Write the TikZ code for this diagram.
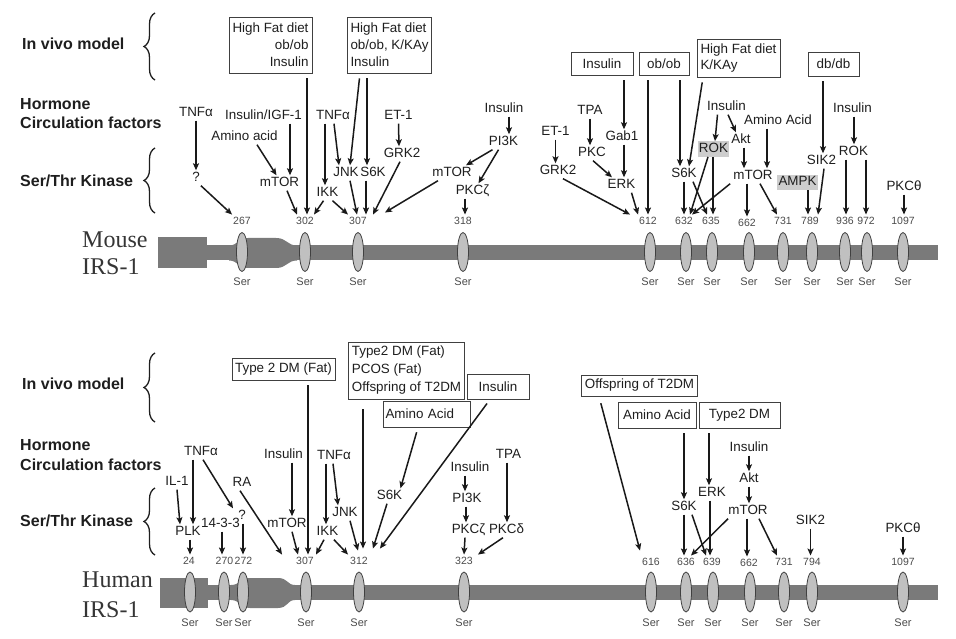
\documentclass[tikz,border=0pt]{standalone}
\usepackage{fontspec}
\setmainfont{Liberation Sans}
\newfontfamily\serifirs{Liberation Serif}
\usetikzlibrary{arrows.meta,decorations.pathreplacing}
\definecolor{barc}{RGB}{122,122,122}
\definecolor{ellc}{RGB}{192,192,192}
\definecolor{txt}{RGB}{30,30,30}
\definecolor{numc}{RGB}{75,75,75}
\definecolor{hlc}{RGB}{205,205,205}
\begin{document}
\begin{tikzpicture}[x=1pt,y=-1pt,
  lbl/.style={font=\fontsize{13.4}{16}\selectfont, text=txt, inner sep=1pt, text height=10pt, text depth=3pt},
  hl/.style={lbl, fill=hlc, inner sep=1.2pt},
  num/.style={font=\fontsize{10.5}{12}\selectfont, text=numc, inner xsep=1pt, inner ysep=2.5pt, text height=7.5pt, text depth=0pt},
  ser/.style={font=\fontsize{11}{13}\selectfont, text=numc, inner sep=1pt},
  bx/.style={draw=txt!85, line width=0.9pt, font=\fontsize{13.4}{17}\selectfont, text=txt, inner xsep=3pt, inner ysep=2pt},
  side/.style={font=\bfseries\fontsize{16}{19}\selectfont, anchor=west, inner sep=0pt, text=txt, text height=11.5pt, text depth=0pt},
  irs/.style={font=\serifirs\fontsize{24}{26}\selectfont, anchor=west, inner sep=0pt, text=txt!90, text height=16pt, text depth=0pt},
  arr/.style={-{Stealth[length=7pt,width=6pt,inset=1.5pt]}, line width=1.5pt, draw=black!90},
  fromb/.style={arr, shorten <=5pt},
  ell/.style={fill=ellc, draw=black!75, line width=0.8pt},
  brc/.style={decorate, decoration={brace, amplitude=11pt}, line width=1.3pt, draw=txt}
]
\useasboundingbox (0,0) rectangle (956,639);

% ================= side labels =================
\node[side] (lv1) at (22,44) {In vivo model};
\node[side] (lh1) at (20,103.5) {Hormone};
\node[side] (lc1) at (20,123) {Circulation factors};
\node[side] (lk1) at (20,180.5) {Ser/Thr Kinase};
\node[side] (lv2) at (22,383.5) {In vivo model};
\node[side] (lh2) at (20,445) {Hormone};
\node[side] (lc2) at (20,464.5) {Circulation factors};
\node[side] (lk2) at (20,520.5) {Ser/Thr Kinase};
\draw[brc] (155,80) -- (155,13);
\draw[brc] (155,213) -- (155,148);
\draw[brc] (155,422) -- (155,353);
\draw[brc] (155,555) -- (155,488);
\node[irs] (mo1) at (82,239.5) {Mouse};
\node[irs] (mo2) at (82,266.5) {IRS-1};
\node[irs] (hu1) at (82,579.5) {Human};
\node[irs] (hu2) at (82,609.5) {IRS-1};

% ================= mouse bar =================
\fill[barc] (158,237) rectangle (207,268);
\fill[barc] (206,245.5) rectangle (938,260.5);
\fill[barc] (229,245.5) .. controls (238,245.5) and (238,238) .. (248,238) -- (276,238)
  .. controls (287,238) and (287,245.5) .. (297,245.5) -- (297,260.5)
  .. controls (287,260.5) and (287,268) .. (276,268) -- (248,268)
  .. controls (238,268) and (238,260.5) .. (229,260.5) -- cycle;
\foreach \x in {242,305,358,463,650,686,712,749,783,812,845,867,903}
  \draw[ell] (\x,252) ellipse [x radius=5.5pt, y radius=19.5pt];
\foreach \x [count=\i] in {242,305,358,463,650,686,712,749,783,812,845,867,903}
  \node[ser] (ms\i) at (\x,282) {Ser};

% ================= human bar =================
\fill[barc] (160,578) rectangle (208,608);
\fill[barc] (207,585) rectangle (938,600);
\fill[barc] (231,585) .. controls (240,585) and (240,578) .. (250,578) -- (278,578)
  .. controls (288,578) and (287,585) .. (295,585) -- (295,600)
  .. controls (287,600) and (288,608) .. (278,608) -- (250,608)
  .. controls (240,608) and (240,600) .. (231,600) -- cycle;
\foreach \x in {190,224,243,306,359,464,651,686,713,750,784,812,903}
  \draw[ell] (\x,592) ellipse [x radius=5.5pt, y radius=20pt];
\foreach \x [count=\i] in {190,224,243,306,359,464,651,686,713,750,784,812,903}
  \node[ser] (hs\i) at (\x,623) {Ser};

% ================= mouse numbers =================
\node[num] (n267) at (242,221) {267};
\node[num] (n302) at (305,221) {302};
\node[num] (n307) at (358,221) {307};
\node[num] (n318) at (463,221) {318};
\node[num] (n612) at (648,221) {612};
\node[num] (n632) at (684,221) {632};
\node[num] (n635) at (711,221) {635};
\node[num] (n662) at (747,223) {662};
\node[num] (n731) at (783,221) {731};
\node[num] (n789) at (810,221) {789};
\node[num] (n936) at (845,221) {936};
\node[num] (n972) at (866,221) {972};
\node[num] (n1097) at (903,221) {1097};

% ================= mouse boxes =================
\node[bx, align=right, minimum width=83pt, minimum height=56pt] (mb1) at (270.5,45) {High Fat diet\\ob/ob\\Insulin};
\node[bx, align=left, minimum width=83pt, minimum height=56pt] (mb2) at (389.5,45) {High Fat diet\\ob/ob, K/KAy\\Insulin};
\node[bx, minimum width=62pt, minimum height=23pt] (mbins) at (602,63.5) {Insulin};
\node[bx, minimum width=50pt, minimum height=23pt] (mbob) at (664,63.5) {ob/ob};
\node[bx, align=left, minimum width=83pt, minimum height=38pt, font=\fontsize{13.4}{16}\selectfont] (mbhf) at (738.5,58) {High Fat diet\\K/KAy};
\node[bx, minimum width=51pt, minimum height=24pt] (mbdb) at (833.5,64) {db/db};

% ================= mouse labels =================
\node[lbl] (mtnf1) at (196,113) {TNFα};
\node[lbl] (mq) at (196,178) {?};
\node[lbl] (migf) at (263.5,116) {Insulin/IGF-1};
\node[lbl] (maa) at (244.5,137) {Amino acid};
\node[lbl] (mmtor1) at (279.5,183) {mTOR};
\node[lbl] (mtnf2) at (333,116) {TNFα};
\node[lbl] (mjnk) at (346,173) {JNK};
\node[lbl] (ms6k1) at (373,173) {S6K};
\node[lbl] (mikk) at (327.5,193) {IKK};
\node[lbl] (met1) at (398.5,116) {ET-1};
\node[lbl] (mgrk1) at (402,154) {GRK2};
\node[lbl] (mmtor2) at (452,173) {mTOR};
\node[lbl] (mpkcz) at (472.5,191) {PKCζ};
\node[lbl] (mins1) at (504,109) {Insulin};
\node[lbl] (mpi3k) at (503.5,142) {PI3K};
\node[lbl] (mtpa) at (590,111) {TPA};
\node[lbl] (mpkc) at (592,153) {PKC};
\node[lbl] (met2) at (555.5,132) {ET-1};
\node[lbl] (mgrk2) at (558,171) {GRK2};
\node[lbl] (mgab) at (622,137) {Gab1};
\node[lbl] (merk) at (621.5,185) {ERK};
\node[lbl] (ms6k2) at (684,174) {S6K};
\node[hl] (mrok1) at (713.5,149) {ROK};
\node[lbl] (mins2) at (726.5,107) {Insulin};
\node[lbl] (makt) at (741,140) {Akt};
\node[lbl] (maa2) at (778,121) {Amino Acid};
\node[lbl] (mmtor3) at (753,176) {mTOR};
\node[hl] (mampk) at (797.5,182.5) {AMPK};
\node[lbl] (msik) at (821.5,161) {SIK2};
\node[lbl] (mins3) at (852.5,109) {Insulin};
\node[lbl] (mrok2) at (853.5,152) {ROK};
\node[lbl] (mpkct) at (904,187) {PKCθ};

% ================= mouse arrows =================
\draw[arr] (mtnf1) -- (mq);
\draw[arr] (mq.south east) -- (n267.north west);
\draw[arr] ([xshift=26.5pt]migf.south) -- ([xshift=10.5pt]mmtor1.north);
\draw[arr] ([xshift=12.5pt]maa.south) -- ([xshift=-3pt]mmtor1.north);
\draw[arr] ([xshift=7.5pt]mmtor1.south) -- ([xshift=-8pt]n302.north);
\draw[fromb] ([xshift=36.5pt]mb1.south) -- ([xshift=2pt]n302.north);
\draw[arr] ([xshift=-8pt]mtnf2.south) -- ([xshift=-2.5pt]mikk.north);
\draw[arr] ([xshift=1pt]mtnf2.south) -- ([xshift=-7pt]mjnk.north);
\draw[fromb] ([xshift=-29.5pt]mb2.south) -- ([xshift=4pt]mjnk.north);
\draw[fromb] ([xshift=-22.5pt]mb2.south) -- ([xshift=-6pt]ms6k1.north);
\draw[arr] ([xshift=-4pt]mikk.south) -- ([xshift=9pt]n302.north);
\draw[arr] ([xshift=5pt]mikk.south) -- ([xshift=-10pt]n307.north);
\draw[arr] ([xshift=4pt]mjnk.south) -- ([xshift=-1pt]n307.north);
\draw[arr] ([xshift=-7pt]ms6k1.south) -- ([xshift=8pt]n307.north);
\draw[arr] (met1.south) -- ([xshift=-3pt]mgrk1.north);
\draw[arr] ([xshift=-2pt]mgrk1.south) -- ([xshift=15pt]n307.north);
\draw[arr] ([xshift=-14pt]mmtor2.south) -- ([xshift=17pt,yshift=2pt]n307.north east);
\draw[arr] ([xshift=-7.5pt]mpkcz.south) -- ([xshift=2pt]n318.north);
\draw[arr] ([xshift=5pt]mins1.south) -- ([xshift=5.5pt]mpi3k.north);
\draw[arr] ([xshift=-11pt]mpi3k.south) -- ([xshift=14pt]mmtor2.north);
\draw[arr] ([xshift=-5pt]mpi3k.south) -- ([xshift=6pt]mpkcz.north);
\draw[arr] (mtpa.south) -- ([xshift=-2pt]mpkc.north);
\draw[arr] (met2.south) -- ([xshift=-2.5pt]mgrk2.north);
\draw[fromb] ([xshift=22pt]mbins.south) -- ([xshift=2pt]mgab.north);
\draw[arr] ([xshift=2pt]mgab.south) -- ([xshift=2.5pt]merk.north);
\draw[arr] ([xshift=1pt]mpkc.south) -- ([xshift=-9.5pt]merk.north);
\draw[arr] ([xshift=10pt]merk.south) -- (n612.north west);
\draw[arr] ([xshift=5pt]mgrk2.south) -- ([xshift=-8pt]n612.north west);
\draw[fromb] ([xshift=-16pt]mbob.south) -- (n612.north);
\draw[fromb] ([xshift=16pt]mbob.south) -- ([xshift=-4pt]ms6k2.north);
\draw[fromb] ([xshift=-35.5pt]mbhf.south) -- ([xshift=5pt]ms6k2.north);
\draw[arr] (ms6k2.south) -- (n632.north);
\draw[arr] ([xshift=9pt]ms6k2.south) -- ([xshift=-4pt]n635.north);
\draw[arr] ([xshift=-5.5pt]mrok1.south) -- ([xshift=6pt]n632.north);
\draw[arr] ([xshift=-0.5pt]mrok1.south) -- ([xshift=2pt]n635.north);
\draw[arr] ([xshift=-9pt]mins2.south) -- ([xshift=1.5pt]mrok1.north);
\draw[arr] ([xshift=1.5pt]mins2.south) -- ([xshift=-5pt]makt.north);
\draw[arr] ([xshift=3pt]makt.south) -- ([xshift=-9pt]mmtor3.north);
\draw[arr] ([xshift=-11pt]maa2.south) -- ([xshift=14pt]mmtor3.north);
\draw[arr] ([xshift=-2pt]mmtor3.south west) -- ([xshift=8pt]n632.north);
\draw[arr] ([xshift=-6pt]mmtor3.south) -- (n662.north);
\draw[arr] ([xshift=7pt]mmtor3.south) -- ([xshift=-6pt]n731.north);
\draw[arr] ([xshift=10.5pt]mampk.south) -- ([xshift=-2pt]n789.north);
\draw[fromb] ([xshift=-10.5pt]mbdb.south) -- ([xshift=1.5pt]msik.north);
\draw[arr] ([xshift=2.5pt]msik.south) -- ([xshift=8pt]n789.north);
\draw[arr] ([xshift=1.5pt]mins3.south) -- ([xshift=0.5pt]mrok2.north);
\draw[arr] ([xshift=-7.5pt]mrok2.south) -- ([xshift=1pt]n936.north);
\draw[arr] ([xshift=12.5pt]mrok2.south) -- (n972.north);
\draw[arr] (mpkct.south) -- ([xshift=1pt]n1097.north);

% ================= human numbers =================
\node[num] (h24) at (189,561) {24};
\node[num] (h270) at (224.5,561) {270};
\node[num] (h272) at (243.5,561) {272};
\node[num] (h307) at (305,561) {307};
\node[num] (h312) at (359,561) {312};
\node[num] (h323) at (464,561) {323};
\node[num] (h616) at (651,562) {616};
\node[num] (h636) at (686,562) {636};
\node[num] (h639) at (712,562) {639};
\node[num] (h662) at (749,563) {662};
\node[num] (h731) at (784,562) {731};
\node[num] (h794) at (812,562) {794};
\node[num] (h1097) at (903,562) {1097};

% ================= human boxes =================
\node[bx, minimum width=103pt, minimum height=22pt] (hb1) at (283.5,369) {Type 2 DM (Fat)};
\node[bx, align=left, minimum width=115pt, minimum height=57pt, font=\fontsize{13.4}{18}\selectfont] (hb2) at (406.5,370.5) {Type2 DM (Fat)\\PCOS (Fat)\\Offspring of T2DM};
\node[bx, minimum width=62pt, minimum height=25pt] (hbins) at (498,386.5) {Insulin};
\node[bx, text width=82pt, inner xsep=2.5pt, align=left, minimum height=26pt] (hbaa) at (426.5,414) {Amino Acid};
\node[bx, minimum width=115pt, minimum height=21pt] (hbof) at (639.5,385.5) {Offspring of T2DM};
\node[bx, minimum width=78pt, minimum height=26pt] (hbaa2) at (657,415) {Amino Acid};
\node[bx, minimum width=81pt, minimum height=26pt] (hbt2) at (739.5,415) {Type2 DM};

% ================= human labels =================
\node[lbl] (htnf1) at (201,452) {TNFα};
\node[lbl] (hil) at (177,482) {IL-1};
\node[lbl] (hplk) at (188,532) {PLK};
\node[lbl] (h1433) at (220.5,524) {14-3-3};
\node[lbl] (hq) at (242,516) {?};
\node[lbl] (hra) at (242,483) {RA};
\node[lbl] (hins1) at (283.5,455) {Insulin};
\node[lbl] (hmtor1) at (287,524) {mTOR};
\node[lbl] (htnf2) at (334,456) {TNFα};
\node[lbl] (hjnk) at (345,513) {JNK};
\node[lbl] (hikk) at (327.5,532) {IKK};
\node[lbl] (hs6k1) at (389.5,496) {S6K};
\node[lbl] (hins2) at (470,468) {Insulin};
\node[lbl] (hpi3k) at (467,499) {PI3K};
\node[lbl] (hpkcz) at (468.5,530) {PKCζ};
\node[lbl] (htpa) at (508.5,455) {TPA};
\node[lbl] (hpkcd) at (506.5,530) {PKCδ};
\node[lbl] (hs6k2) at (684,507) {S6K};
\node[lbl] (herk) at (712,493) {ERK};
\node[lbl] (hins3) at (749,448) {Insulin};
\node[lbl] (hakt) at (749,479) {Akt};
\node[lbl] (hmtor2) at (748,511) {mTOR};
\node[lbl] (hsik) at (810.5,521) {SIK2};
\node[lbl] (hpkct) at (903,529) {PKCθ};

% ================= human arrows =================
\draw[arr] ([xshift=-8pt]htnf1.south) -- ([xshift=5pt]hplk.north);
\draw[arr] (hil.south) -- ([xshift=-8pt]hplk.north);
\draw[arr] ([xshift=2pt]htnf1.south) -- ([xshift=-9pt]hq.north);
\draw[arr] ([xshift=2pt]hplk.south) -- ([xshift=1pt]h24.north);
\draw[arr] ([xshift=1.5pt]h1433.south) -- ([xshift=-2.5pt]h270.north);
\draw[arr] ([xshift=1pt]hq.south) -- ([xshift=-0.5pt]h272.north);
\draw[arr] ([xshift=-2pt]hra.south) -- ([xshift=-13pt]h307.north west);
\draw[arr] ([xshift=8.5pt]hins1.south) -- ([xshift=5pt]hmtor1.north);
\draw[arr] ([xshift=5pt]hmtor1.south) -- ([xshift=-7pt]h307.north);
\draw[fromb] ([xshift=24.5pt]hb1.south) -- ([xshift=3pt]h307.north);
\draw[arr] ([xshift=-8pt]htnf2.south) -- ([xshift=-1.5pt]hikk.north);
\draw[arr] ([xshift=-1pt]htnf2.south) -- ([xshift=-7pt]hjnk.north);
\draw[arr] ([xshift=-3.5pt]hikk.south) -- ([xshift=11pt]h307.north);
\draw[arr] ([xshift=6.5pt]hikk.south) -- ([xshift=-1pt]h312.north west);
\draw[arr] ([xshift=5pt]hjnk.south) -- ([xshift=-1pt,yshift=4pt]h312.north);
\draw[arr, shorten <=10pt] ([xshift=-43.5pt]hb2.south) -- ([xshift=4pt,yshift=6pt]h312.north);
\draw[fromb] ([xshift=-8pt]hbins.south) -- ([xshift=11pt,yshift=6pt]h312.north east);
\draw[fromb] ([xshift=-8.5pt]hbaa.south) -- ([xshift=11pt]hs6k1.north);
\draw[arr] ([xshift=-2.5pt]hs6k1.south) -- ([xshift=4pt,yshift=6pt]h312.north east);
\draw[arr] ([xshift=-5pt]hins2.south) -- ([xshift=-2pt]hpi3k.north);
\draw[arr] ([xshift=-1pt]hpi3k.south) -- ([xshift=-2.5pt]hpkcz.north);
\draw[arr] ([xshift=-3.5pt]hpkcz.south) -- (h323.north);
\draw[arr] ([xshift=-1.5pt]htpa.south) -- ([xshift=0.5pt]hpkcd.north);
\draw[arr] ([xshift=-3.5pt]hpkcd.south) -- ([xshift=4pt]h323.north east);
\draw[arr, shorten <=7pt] ([xshift=-40.5pt]hbof.south) -- ([xshift=-11pt,yshift=5pt]h616.north);
\draw[fromb] ([xshift=27pt]hbaa2.south) -- (hs6k2.north);
\draw[fromb] ([xshift=-30.5pt]hbt2.south) -- ([xshift=-3pt]herk.north);
\draw[arr] (hins3.south) -- (hakt.north);
\draw[arr] (hakt.south) -- ([xshift=1pt]hmtor2.north);
\draw[arr] (hs6k2.south) -- ([xshift=-2pt]h636.north);
\draw[arr] ([xshift=8pt]hs6k2.south) -- ([xshift=-6pt]h639.north);
\draw[arr] ([xshift=-2pt]herk.south) -- ([xshift=-2pt]h639.north);
\draw[arr] ([xshift=-20pt]hmtor2.south) -- ([xshift=5pt]h636.north);
\draw[arr] ([xshift=-1pt]hmtor2.south) -- ([xshift=-2pt]h662.north);
\draw[arr] ([xshift=11pt]hmtor2.south) -- ([xshift=-7pt]h731.north);
\draw[arr] (hsik.south) -- ([xshift=-1.5pt]h794.north);
\draw[arr] (hpkct.south) -- (h1097.north);
\end{tikzpicture}
\end{document}
